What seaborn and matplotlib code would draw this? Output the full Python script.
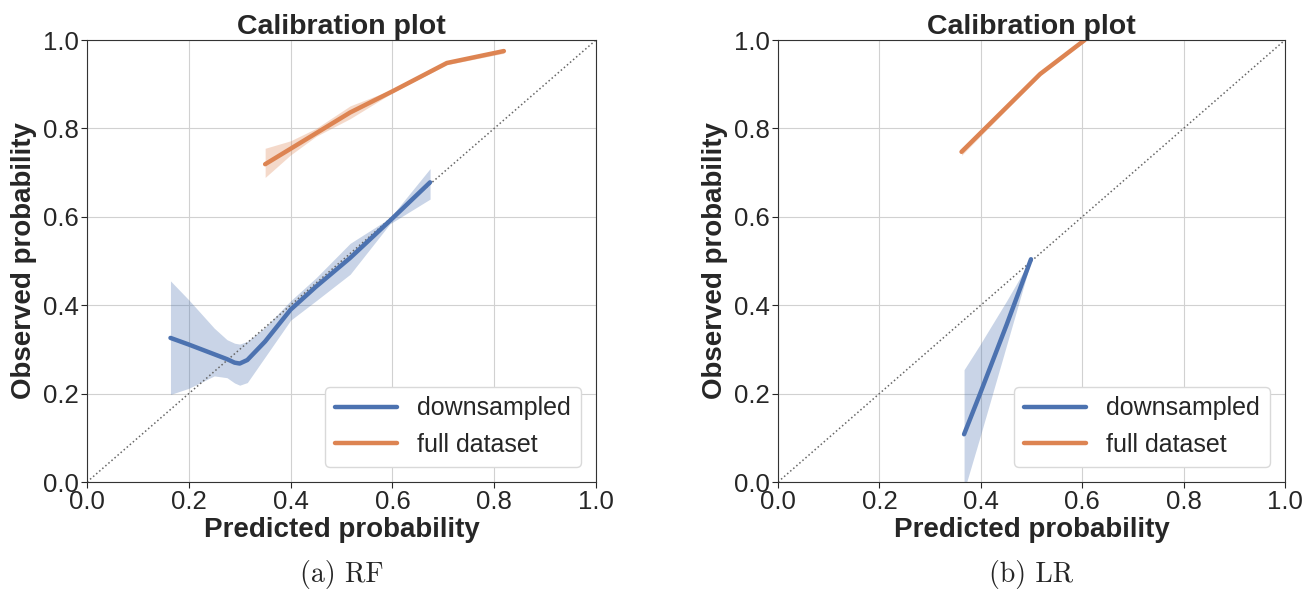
import numpy as np
import pandas as pd
import matplotlib
matplotlib.use("Agg")
import matplotlib.pyplot as plt
import seaborn as sns

# ---- data ----
# RF panel
rf_down_x = [0.164, 0.20, 0.25, 0.275, 0.29, 0.30, 0.315, 0.35, 0.40, 0.45, 0.517, 0.595, 0.674]
rf_down_mean = [0.326, 0.311, 0.289, 0.278, 0.270, 0.268, 0.276, 0.318, 0.390, 0.442, 0.507, 0.591, 0.678]
rf_down_lo = [0.198, 0.212, 0.240, 0.236, 0.224, 0.219, 0.225, 0.283, 0.366, 0.410, 0.470, 0.584, 0.640]
rf_down_hi = [0.455, 0.412, 0.348, 0.322, 0.314, 0.312, 0.318, 0.350, 0.410, 0.462, 0.540, 0.597, 0.709]

rf_full_x = [0.350, 0.40, 0.45, 0.517, 0.602, 0.707, 0.819]
rf_full_mean = [0.719, 0.754, 0.789, 0.836, 0.885, 0.948, 0.975]
rf_full_lo = [0.689, 0.740, 0.782, 0.822, 0.882, 0.944, 0.970]
rf_full_hi = [0.755, 0.772, 0.800, 0.851, 0.889, 0.952, 0.980]

# LR panel
lr_down_x = [0.367, 0.398, 0.451, 0.499]
lr_down_mean = [0.108, 0.198, 0.356, 0.504]
lr_down_lo = [-0.02, 0.10, 0.31, 0.50]
lr_down_hi = [0.254, 0.31, 0.41, 0.505]

lr_full_x = [0.362, 0.517, 0.605]
lr_full_mean = [0.747, 0.923, 1.0]
lr_full_lo = [0.739, 0.920, 0.997]
lr_full_hi = [0.755, 0.926, 1.003]

ticks = [0.0, 0.2, 0.4, 0.6, 0.8, 1.0]
series_names = ["downsampled", "full dataset"]
captions = ["(a) RF", "(b) LR"]

sns.set_style("ticks", {"axes.grid": True, "grid.color": ".82",
                        "axes.edgecolor": ".2"})
plt.rcParams["font.family"] = ["Liberation Sans", "DejaVu Sans"]
plt.rcParams["xtick.major.size"] = 4
plt.rcParams["ytick.major.size"] = 4

palette = sns.color_palette("deep")

fig = plt.figure(figsize=(13.13, 5.95), dpi=100)
ax1 = fig.add_axes([87 / 1313, 113 / 595, 509 / 1313, 442 / 595])
ax2 = fig.add_axes([778 / 1313, 113 / 595, 507 / 1313, 442 / 595])

panels = [
    (ax1, [(rf_down_x, rf_down_mean, rf_down_lo, rf_down_hi),
           (rf_full_x, rf_full_mean, rf_full_lo, rf_full_hi)]),
    (ax2, [(lr_down_x, lr_down_mean, lr_down_lo, lr_down_hi),
           (lr_full_x, lr_full_mean, lr_full_lo, lr_full_hi)]),
]

for (ax, series), cap in zip(panels, captions):
    for (x, m, lo, hi), name, col in zip(series, series_names, palette):
        ax.fill_between(x, lo, hi, color=col, alpha=0.3, linewidth=0)
        sns.lineplot(x=x, y=m, ax=ax, color=col, linewidth=3.2, label=name,
                     solid_capstyle="round")
    ax.plot([0, 1], [0, 1], ls=":", color="0.4", lw=1.1, zorder=1)
    ax.set_xlim(0, 1)
    ax.set_ylim(0, 1)
    ax.set_xticks(ticks)
    ax.set_yticks(ticks)
    ax.tick_params(labelsize=18.5, pad=2)
    ax.set_title("Calibration plot", fontsize=20.5, fontweight="bold", pad=4)
    ax.set_xlabel("Predicted probability", fontsize=20, fontweight="bold", labelpad=2)
    ax.set_ylabel("Observed probability", fontsize=20, fontweight="bold", labelpad=4)
    ax.legend(loc="lower right", fontsize=18, handlelength=2.5,
              borderaxespad=0.6, framealpha=1, edgecolor="0.85")
    for sp in ax.spines.values():
        sp.set_visible(True)
    pos = ax.get_position()
    fig.text(pos.x0 + pos.width / 2, 0.035, cap, ha="center", va="center",
             fontsize=20, family="cmr10")

plt.savefig("out.png", dpi=100)
